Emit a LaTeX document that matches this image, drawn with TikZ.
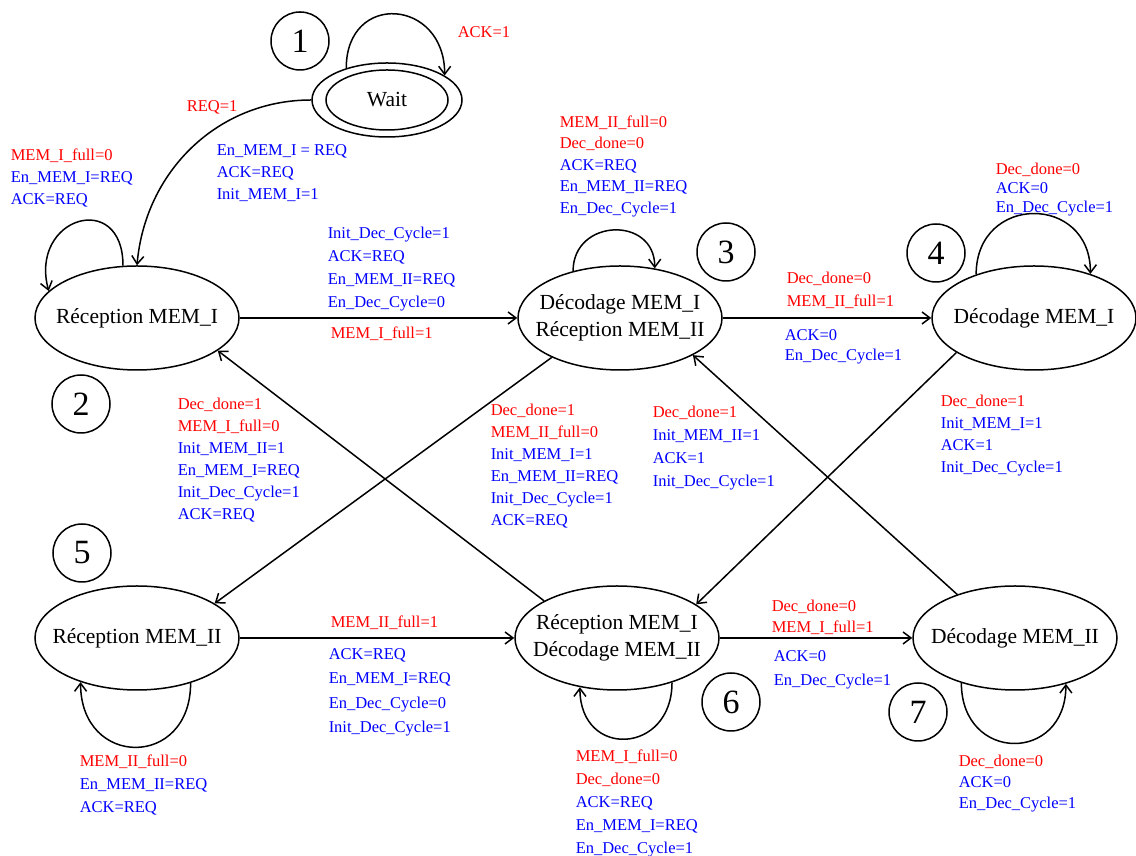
\documentclass[tikz,border=0pt]{standalone}
\usepackage{fontspec}
\setmainfont{Liberation Serif}
\usetikzlibrary{arrows.meta,shapes.geometric}
\definecolor{lblred}{RGB}{255,0,0}
\definecolor{lblblue}{RGB}{0,0,255}
\newcommand{\redtxt}[1]{\textcolor{lblred}{#1}}

\begin{document}
\begin{tikzpicture}[x=1pt, y=1pt, line width=1.5pt, >={Straight Barb[length=8pt,width=12pt]},
    state/.style={draw, ellipse, minimum width=204pt, minimum height=104pt, inner sep=0pt},
    stname/.style={font=\fontsize{21.5}{27}\selectfont, align=center},
    num/.style={draw, circle, minimum size=58pt, inner sep=0pt, font=\fontsize{34}{34}\selectfont},
    lbl/.style={anchor=west, align=left, inner xsep=0pt, text=lblblue, font=\fontsize{16.5}{#1}\selectfont},
    lbl/.default=22]
    \useasboundingbox (0,0) rectangle (1136,856);

    % states
    \node[state, minimum width=150pt, minimum height=74pt] (wait) at (387,756) {};
    \node[draw, ellipse, minimum width=122pt, minimum height=60pt, inner sep=0pt, stname] (waitin) at (wait) {Wait};
    \node[state, label={[stname]center:Réception MEM\_I}] (recI) at (137,538) {};
    \node[state, label={[stname]center:Décodage MEM\_I\\Réception MEM\_II}] (decIrecII) at (620,538) {};
    \node[state, label={[stname]center:Décodage MEM\_I}] (decI) at (1034,538) {};
    \node[state, label={[stname]center:Réception MEM\_II}] (recII) at (137,218) {};
    \node[state, label={[stname]center:Réception MEM\_I\\Décodage MEM\_II}] (recIdecII) at (617,218) {};
    \node[state, label={[stname]center:Décodage MEM\_II}] (decII) at (1015,218) {};

    % numbers
    \node[num] (n1) at (300,815) {1};
    \node[num] (n2) at (81,452) {2};
    \node[num] (n3) at (726,604) {3};
    \node[num] (n4) at (936,603) {4};
    \node[num] (n5) at (82,303) {5};
    \node[num] (n6) at (731,154) {6};
    \node[num] (n7) at (918,144) {7};

    % transitions
    \draw[->] (wait.west) to[out=180, in=85] (recI.north);
    \draw[->] (wait.142) to[out=90, in=90, looseness=2] (wait.23);
    \draw[->] (recI.105) to[out=90, in=105, looseness=2.5] (recI.163);
    \draw[->] (recI) -- (decIrecII);
    \draw[->] (decIrecII.135) to[out=90, in=90, looseness=1.65] (decIrecII.55);
    \draw[->] (decIrecII) -- (decI);
    \draw[->] (decI.143) to[out=90, in=90, looseness=1.8] (decI.38);
    \draw[->] (decIrecII.210) -- (recII.24);
    \draw[->] (recIdecII.153) -- (recI.-22);
    \draw[->] (decI.204) -- (recIdecII.23);
    \draw[->] (decII.143) -- (decIrecII.-27);
    \draw[->] (recII) -- (recIdecII);
    \draw[->] (recIdecII) -- (decII);
    \draw[->] (recII.-40) to[out=-90, in=-90, looseness=2] (recII.-142);
    \draw[->] (recIdecII.-39) to[out=-90, in=-90, looseness=2] (recIdecII.-127);
    \draw[->] (decII.-140) to[out=-90, in=-90, looseness=1.95] (decII.-42);

    % conditions and outputs
    \node[lbl] (lwaitloop) at (457,824) {\redtxt{ACK=1}};
    \node[lbl] (lreq) at (186,749) {\redtxt{REQ=1}};
    \node[lbl] (lwaitout) at (216,683) {En\_MEM\_I = REQ\\ACK=REQ\\Init\_MEM\_I=1};
    \node[lbl] (lrecIloop) at (10,678) {\redtxt{MEM\_I\_full=0}\\En\_MEM\_I=REQ\\ACK=REQ};
    \node[lbl=23] (lrecIup) at (327,587) {Init\_Dec\_Cycle=1\\ACK=REQ\\En\_MEM\_II=REQ\\En\_Dec\_Cycle=0};
    \node[lbl] (lrecIdown) at (330,522) {\redtxt{MEM\_I\_full=1}};
    \node[lbl=21.5] (ldecIrecIIloop) at (559,690) {\redtxt{MEM\_II\_full=0}\\\redtxt{Dec\_done=0}\\ACK=REQ\\En\_MEM\_II=REQ\\En\_Dec\_Cycle=1};
    \node[lbl=23] (ldecIrecIIup) at (786,565.5) {\redtxt{Dec\_done=0}\\\redtxt{MEM\_II\_full=1}};
    \node[lbl=20] (ldecIrecIIdown) at (784,509) {ACK=0\\En\_Dec\_Cycle=1};
    \node[lbl=19] (ldecIloop) at (995,666) {\redtxt{Dec\_done=0}\\ACK=0\\En\_Dec\_Cycle=1};
    \node[lbl] (ldiagA) at (177,396) {\redtxt{Dec\_done=1}\\\redtxt{MEM\_I\_full=0}\\Init\_MEM\_II=1\\En\_MEM\_I=REQ\\Init\_Dec\_Cycle=1\\ACK=REQ};
    \node[lbl] (ldiagB) at (490,390) {\redtxt{Dec\_done=1}\\\redtxt{MEM\_II\_full=0}\\Init\_MEM\_I=1\\En\_MEM\_II=REQ\\Init\_Dec\_Cycle=1\\ACK=REQ};
    \node[lbl=23] (ldiagC) at (652,408) {\redtxt{Dec\_done=1}\\Init\_MEM\_II=1\\ACK=1\\Init\_Dec\_Cycle=1};
    \node[lbl] (ldiagD) at (940,420) {\redtxt{Dec\_done=1}\\Init\_MEM\_I=1\\ACK=1\\Init\_Dec\_Cycle=1};
    \node[lbl] (lrecIIup) at (330,233) {\redtxt{MEM\_II\_full=1}};
    \node[lbl=24.5] (lrecIIdown) at (328,163.5) {ACK=REQ\\En\_MEM\_I=REQ\\En\_Dec\_Cycle=0\\Init\_Dec\_Cycle=1};
    \node[lbl=23] (lrecIIloop) at (79,71) {\redtxt{MEM\_II\_full=0}\\En\_MEM\_II=REQ\\ACK=REQ};
    \node[lbl=21] (lrecIdecIIup) at (771,238.5) {\redtxt{Dec\_done=0}\\\redtxt{MEM\_I\_full=1}};
    \node[lbl=24] (lrecIdecIIdown) at (773,186) {ACK=0\\En\_Dec\_Cycle=1};
    \node[lbl=23] (lrecIdecIIloop) at (575,53) {\redtxt{MEM\_I\_full=0}\\\redtxt{Dec\_done=0}\\ACK=REQ\\En\_MEM\_I=REQ\\En\_Dec\_Cycle=1};
    \node[lbl=21] (ldecIIloop) at (958,72) {\redtxt{Dec\_done=0}\\ACK=0\\En\_Dec\_Cycle=1};
\end{tikzpicture}
\end{document}
